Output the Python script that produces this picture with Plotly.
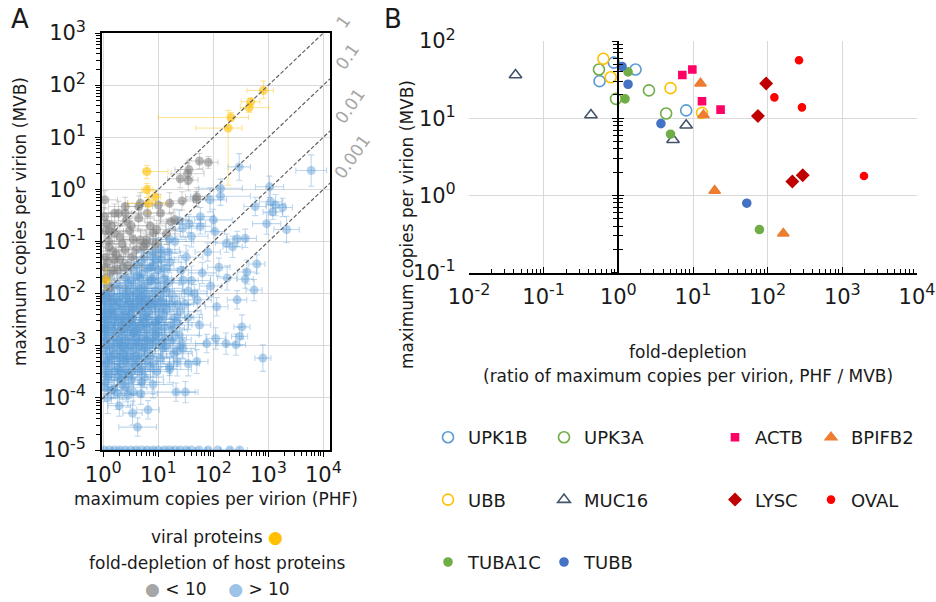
import plotly.graph_objects as go

W, H = 936, 602
FONT = "DejaVu Sans"
TXT = "#1a1a1a"

# ---------------- Panel A data (maximum copies per virion) ----------------
# viral proteins: PHF (x), MVB (y) with error-bar bounds
viral_phf = [813, 479, 447, 209, 186, 6.2, 6.2, 8.7, 6.6, 1.12]
viral_mvb = [79, 48, 37, 24, 15, 2.2, 0.98, 0.72, 0.54, 0.018]
viral_phf_lo = [407, 320, 309, 10, 48, 5.3, 5.0, 7.0, 2.8, 1.0]
viral_phf_hi = [1230, 700, 1020, 436, 330, 15, 8.0, 11, 14, 1.3]
viral_mvb_lo = [56, 40, 30, 20, 1.2, 1.6, 0.7, 0.55, 0.35, 0.012]
viral_mvb_hi = [120, 56, 45, 30, 33, 2.9, 1.3, 0.95, 1.17, 0.03]

# host proteins, fold-depletion < 10
gray_phf = [56, 81, 36, 34, 25, 35, 27, 49, 16, 2.5,
            4.7, 17, 20, 9.3, 4.4, 2.5, 1.3, 4.7, 2.0, 1.05,
            50, 1.6, 6.2, 2.5, 3.3, 1.26, 8.1, 4.4, 1.6, 1.5,
            2.0, 5.4, 7.1, 1.15, 1.07, 1.07, 1.3, 1.8, 1.12, 11,
            3.2, 8.9, 2.8, 10, 3.5, 14, 6.3, 1.6,
            1.1, 1.25, 1.4, 1.7, 2.2, 1.2, 1.5, 3.0, 2.6, 1.9,
            4.0, 1.05, 1.3, 2.3, 6.0]
gray_mvb = [3.5, 3.3, 2.4, 2.0, 1.6, 1.5, 0.60, 0.65, 0.54, 0.47,
            0.54, 0.24, 0.26, 0.17, 0.28, 0.35, 0.155, 0.107, 0.123, 0.30,
            0.72, 0.145, 0.107, 0.069, 0.051, 0.079, 0.145, 0.47, 0.35, 0.065,
            0.045, 0.079, 0.20, 0.22, 0.63, 0.032, 0.024, 0.028, 0.050, 0.35,
            0.20, 0.089, 0.035, 0.50, 0.11, 0.14, 0.35, 0.045,
            0.16, 0.10, 0.20, 0.056, 0.09, 0.04, 0.028, 0.16, 0.25, 0.35,
            0.07, 0.019, 0.013, 0.032, 0.09]
gray_phf_f = [1.6, 1.5, 1.8, 2.0, 1.7, 1.5, 1.6, 1.5, 1.8, 2.0,
              1.7, 1.6, 1.8, 2.2, 1.9, 2.0, 1.8, 2.0, 1.9, 1.8,
              1.6, 2.0, 1.8, 2.1, 1.9, 2.0, 1.7, 1.8, 2.0, 1.9,
              2.0, 1.8, 1.9, 1.8, 1.7, 1.9, 2.0, 1.8, 1.9, 1.7,
              2.0, 1.8, 1.9, 1.7, 2.0, 1.8, 1.9, 2.0,
              2.1, 1.9, 2.2, 2.0, 2.3, 1.9, 2.1, 2.0, 2.2, 1.9,
              2.1, 1.8, 2.0, 2.2, 1.9]
gray_mvb_f = [1.4, 1.3, 1.5, 1.6, 1.5, 1.6, 1.5, 1.4, 1.6, 1.5,
              1.6, 1.5, 1.6, 1.5, 1.6, 1.5, 1.6, 1.5, 1.6, 1.5,
              1.5, 1.6, 1.5, 1.6, 1.5, 1.6, 1.5, 1.6, 1.5, 1.6,
              1.5, 1.6, 1.5, 1.6, 1.5, 1.6, 1.5, 1.6, 1.5, 1.6,
              1.5, 1.6, 1.5, 1.6, 1.5, 1.6, 1.5, 1.6,
              1.6, 1.5, 1.7, 1.6, 1.5, 1.7, 1.6, 1.5, 1.6, 1.7,
              1.5, 1.6, 1.7, 1.6, 1.5]

# host proteins, fold-depletion > 10
blue_phf = [6000, 295, 135, 1050, 135, 87, 575, 1100, 1350, 1820,
            1200, 930, 2140, 380, 270, 100, 58, 36, 24, 58,
            107, 174, 224, 617, 407, 380, 550, 270, 115, 51,
            56, 330, 110, 300, 76, 170, 257, 794, 22, 11,
            35, 16, 9.3, 21, 31, 4.8, 1.5, 6.5, 3.4, 1.95,
            4.2, 1.12, 40, 79, 32, 126, 63, 20, 16, 28,
            45, 89, 178, 12.6, 22, 35, 18, 10, 8.9, 14,
            28, 50, 7.1, 5.6, 2.8, 2.0, 16, 28, 11, 7.9,
            5.6, 7.9, 11.2, 4.0, 7.1, 2.5, 5.0, 10, 1.6, 1.12,
            2.0, 3.2, 4.5, 6.3, 8.9, 12.6, 1.4, 2.5, 3.5, 5.6,
            1.05, 1.26, 1.8, 2.2, 2.8, 4.0, 5.0, 7.1, 8.9, 11.2,
            1.6, 3.2, 6.3, 2.0, 4.5, 1.12, 1.4, 1.9, 2.4, 3.0,
            3.8, 4.8, 6.0, 7.9, 1.26, 2.2, 4.0, 10, 1.66, 5.2,
            1.07, 1.3, 1.8, 2.5, 3.2, 4.5, 6.3, 7.9, 1.6, 2.8,
            5.0, 2.0, 1.12, 1.4, 2.0, 2.6, 3.5, 4.5, 1.26, 1.8,
            3.2, 7.1, 2.2, 1.4, 3.5, 2.5, 5.6, 8.9, 12.6, 4.0,
            2.2, 1.12, 1.5, 1.2, 7.9, 3.5, 14, 2.8, 5.0,
            1.02, 1.03, 1.05, 1.02, 1.04, 1.03, 1.06, 1.08,
            1.4, 1.7, 2.1, 1.5, 1.8, 2.0, 1.6, 2.4, 1.3, 2.2,
            2.7, 3.0, 3.4, 2.9, 3.6, 3.1, 2.7, 3.8, 3.3, 3.9,
            4.6, 5.3, 6.0, 4.8, 6.6, 5.5, 4.4, 6.2, 5.0, 6.8,
            8.3, 9.5, 11, 8.5, 10.5, 9.0, 11.5, 8.0, 12, 9.8,
            13, 15, 18, 14, 20, 17, 24, 13, 19, 25, 30, 35, 26, 15, 40,
            3.5, 5.0, 6.3, 9.0, 4.2, 7.5, 11, 2.8,
            1.1, 1.5, 2.0, 2.6, 3.4, 4.2, 5.5, 7.0, 9.0, 1.3,
            1.2, 1.6, 2.1, 2.7, 3.5, 4.5, 6.0, 8.0, 1.04, 2.3,
            1.15, 1.5, 2.0, 2.6, 3.4, 4.3, 5.6, 7.0, 1.3, 2.3,
            1.1, 1.45, 1.9, 2.5, 3.3, 4.2, 5.8, 1.2, 2.1, 2.9,
            1.05, 1.4, 1.8, 2.6, 3.5, 1.2, 5.0, 8.0,
            16, 22, 13, 27, 18, 12, 22, 16]
blue_mvb = [2.3, 2.7, 1.05, 1.12, 0.74, 0.63, 0.47, 0.58, 0.50, 0.45,
            0.37, 0.22, 0.17, 0.115, 0.112, 0.26, 0.30, 0.22, 0.25, 0.195,
            0.155, 0.093, 0.079, 0.037, 0.026, 0.019, 0.0117, 0.0076, 0.0056, 0.0076,
            0.0025, 0.0023, 0.00138, 0.00151, 0.0011, 0.0011, 0.00105, 0.00058, 0.00078, 0.00058,
            0.00045, 0.0004, 0.00032, 0.000129, 0.000129, 0.00012, 0.000145, 5.9e-5, 5.1e-5, 7.1e-5,
            2.75e-5, 0.0002, 0.126, 0.063, 0.050, 0.032, 0.025, 0.10, 0.040, 0.018,
            0.010, 0.014, 0.020, 0.0126, 0.0063, 0.0035, 0.002, 0.0032, 0.00126, 0.001,
            0.00089, 0.0005, 0.00063, 0.00025, 0.000112, 0.00032, 0.11, 0.18, 0.07, 0.063,
            0.050, 0.050, 0.045, 0.035, 0.032, 0.020, 0.024, 0.028, 0.0141, 0.010,
            0.014, 0.018, 0.0126, 0.016, 0.0112, 0.020, 0.010, 0.010, 0.0089, 0.010,
            0.0079, 0.0063, 0.0071, 0.005, 0.0063, 0.0056, 0.0045, 0.0063, 0.005, 0.0071,
            0.004, 0.004, 0.0035, 0.0089, 0.0079, 0.0032, 0.0025, 0.0028, 0.0022, 0.0028,
            0.002, 0.0025, 0.002, 0.0025, 0.0018, 0.0016, 0.0014, 0.0018, 0.0035, 0.0035,
            0.00126, 0.001, 0.0011, 0.00089, 0.00126, 0.001, 0.00089, 0.0011, 0.0007, 0.00063,
            0.0007, 0.00079, 0.0005, 0.0004, 0.00045, 0.00035, 0.00045, 0.00032, 0.00028, 0.00025,
            0.00022, 0.0004, 0.00018, 0.005, 0.0025, 0.0045, 0.00126, 0.0028, 0.004, 0.00056,
            0.001, 0.002, 0.0014, 0.0007, 0.020, 0.0126, 0.0112, 0.0018, 0.0089,
            0.0063, 0.0035, 0.0016, 0.0009, 0.00035, 0.0095, 0.0045, 0.0025,
            0.0079, 0.0056, 0.0032, 0.0020, 0.0013, 0.0006, 0.00032, 0.00028, 0.0042, 0.0025,
            0.0112, 0.0071, 0.0050, 0.0035, 0.0018, 0.0010, 0.00056, 0.00063, 0.0032, 0.0100,
            0.020, 0.0126, 0.0071, 0.0056, 0.0045, 0.0028, 0.0016, 0.0013, 0.00035, 0.0063,
            0.035, 0.016, 0.0089, 0.0063, 0.0032, 0.0016, 0.0011, 0.00045, 0.0056, 0.0025,
            0.030, 0.016, 0.0089, 0.005, 0.0035, 0.0025, 0.0016, 0.0014, 0.0007, 0.0045,
            0.0063, 0.0112, 0.028, 0.063, 0.0178,
            0.028, 0.040, 0.030, 0.045, 0.022, 0.018, 0.060, 0.016,
            0.0089, 0.0071, 0.0063, 0.0079, 0.0056, 0.0071, 0.0063, 0.0079, 0.0071, 0.0045,
            0.0032, 0.0028, 0.0020, 0.0025, 0.0018, 0.0022, 0.0028, 0.0018, 0.0022, 0.0035,
            0.0013, 0.0009, 0.0011, 0.0013, 0.0008, 0.0011, 0.0009, 0.0013, 0.0006, 0.0007,
            0.00045, 0.00056, 0.00035, 0.0005, 0.00032, 0.00045, 0.0005, 0.00025, 0.00022, 0.00028,
            0.00016, 0.00014, 0.00012, 0.00016, 0.00013, 0.0001, 0.0002, 0.00018,
            0.0063, 0.0028, 0.0022, 0.0011, 0.0013, 0.0009, 0.0005, 0.00035]
blue_phf_f = [1.9, 1.6, 2.5, 1.8, 3.5, 2.0, 1.6, 1.6, 1.5, 1.5,
              1.5, 1.8, 1.7, 1.6, 1.5, 2.2, 1.8, 2.0, 1.7, 1.6,
              1.5, 1.6, 1.5, 1.4, 1.5, 1.4, 1.4, 1.5, 1.6, 1.8,
              1.6, 1.4, 1.5, 1.4, 1.6, 1.5, 1.5, 1.4, 1.8, 1.7,
              1.6, 1.6, 1.8, 2.5, 1.5, 2.0, 1.8, 1.6, 1.5, 1.6,
              2.2, 1.4, 2.0, 1.7, 2.0, 1.6, 1.8, 2.2, 2.0, 1.9,
              1.7, 1.6, 1.5, 2.2, 2.0, 1.8, 1.9, 2.0, 2.1, 1.8,
              1.7, 1.6, 2.0, 2.2, 1.8, 1.9, 2.0, 1.8, 2.2, 2.0,
              2.4, 2.2, 2.1, 2.5, 2.3, 2.6, 2.4, 2.2, 2.2, 2.0,
              2.5, 2.4, 2.3, 2.2, 2.2, 2.1, 2.2, 2.4, 2.3, 2.2,
              2.0, 2.2, 2.4, 2.5, 2.3, 2.2, 2.4, 2.2, 2.1, 2.2,
              2.3, 2.4, 2.2, 2.5, 2.3, 2.1, 2.2, 2.4, 2.3, 2.5,
              2.2, 2.4, 2.2, 2.1, 2.2, 2.4, 2.3, 2.1, 2.4, 2.2,
              2.1, 2.2, 2.4, 2.3, 2.5, 2.2, 2.4, 2.1, 2.2, 2.4,
              2.2, 2.3, 2.1, 2.2, 2.4, 2.3, 2.2, 2.4, 2.1, 2.3,
              2.2, 2.1, 2.4, 2.2, 2.3, 2.4, 2.2, 2.1, 2.0, 2.3,
              2.4, 2.1, 2.2, 2.3, 2.2, 2.4, 2.1, 2.3, 2.2,
              1.6, 1.7, 1.8, 1.6, 1.7, 1.8, 1.6, 1.7,
              2.2, 2.4, 2.3, 2.5, 2.2, 2.4, 2.3, 2.5, 2.2, 2.4,
              2.3, 2.5, 2.2, 2.4, 2.3, 2.5, 2.2, 2.4, 2.3, 2.5,
              2.2, 2.4, 2.3, 2.5, 2.2, 2.4, 2.3, 2.5, 2.2, 2.4,
              2.3, 2.5, 2.2, 2.4, 2.3, 2.5, 2.2, 2.4, 2.3, 2.5,
              2.2, 2.4, 2.3, 2.5, 2.2, 2.4, 2.3, 2.5, 2.2, 2.4, 2.3, 2.2, 2.4, 2.3, 2.2,
              2.5, 2.3, 2.6, 2.2, 2.4, 2.5, 2.3, 2.6,
              1.8, 2.3, 2.5, 2.2, 2.6, 2.4, 2.3, 2.5, 2.2, 2.0,
              1.9, 2.4, 2.3, 2.6, 2.2, 2.5, 2.3, 2.4, 1.6, 2.5,
              1.9, 2.3, 2.5, 2.2, 2.6, 2.4, 2.3, 2.5, 2.0, 2.4,
              1.8, 2.2, 2.5, 2.3, 2.6, 2.4, 2.2, 1.9, 2.3, 2.5,
              1.6, 2.0, 2.3, 2.4, 2.2, 1.9, 2.5, 2.3,
              2.2, 2.4, 2.3, 2.5, 2.2, 2.4, 2.3, 2.5]
blue_mvb_f = [2.0, 1.8, 1.5, 1.6, 1.5, 1.7, 1.5, 1.8, 1.6, 1.5,
              1.4, 1.6, 1.8, 1.5, 1.4, 1.6, 1.5, 1.5, 1.6, 1.4,
              1.6, 1.5, 1.6, 1.5, 1.7, 1.5, 1.6, 1.5, 1.5, 1.6,
              1.6, 1.7, 1.6, 1.5, 1.5, 1.6, 1.6, 1.8, 1.6, 1.5,
              1.7, 1.5, 1.6, 1.5, 1.6, 1.6, 1.5, 1.5, 1.7, 1.6,
              1.5, 1.8, 1.6, 1.5, 1.7, 1.5, 1.6, 1.7, 1.6, 1.8,
              1.5, 1.6, 1.7, 1.7, 1.6, 1.7, 1.6, 1.8, 1.6, 1.7,
              1.6, 1.7, 1.8, 1.6, 1.7, 1.6, 1.6, 1.5, 1.7, 1.8,
              1.9, 1.8, 1.7, 1.9, 1.8, 2.0, 1.9, 1.8, 1.9, 2.0,
              1.8, 1.9, 1.8, 1.9, 1.7, 1.8, 1.9, 1.8, 1.9, 1.8,
              1.9, 1.8, 1.9, 1.8, 1.9, 1.8, 1.9, 1.8, 1.9, 1.7,
              1.9, 1.8, 1.9, 1.8, 1.9, 1.8, 1.9, 1.8, 1.9, 1.8,
              1.9, 1.8, 1.9, 1.8, 1.9, 1.8, 1.9, 1.8, 1.9, 1.8,
              1.9, 1.8, 1.9, 1.8, 1.9, 1.8, 1.9, 1.8, 1.9, 1.8,
              1.9, 1.8, 1.9, 1.8, 1.9, 1.8, 1.9, 1.8, 1.9, 1.8,
              1.9, 1.8, 1.9, 1.8, 1.9, 1.8, 1.9, 1.8, 1.9, 1.8,
              1.9, 1.8, 1.9, 1.8, 1.9, 1.8, 1.9, 1.8, 1.9,
              1.8, 1.9, 1.8, 1.9, 1.8, 1.9, 1.8, 1.9,
              1.9, 1.8, 1.9, 1.8, 1.9, 1.8, 1.9, 1.8, 1.9, 1.8,
              1.9, 1.8, 1.9, 1.8, 1.9, 1.8, 1.9, 1.8, 1.9, 1.8,
              1.9, 1.8, 1.9, 1.8, 1.9, 1.8, 1.9, 1.8, 1.9, 1.8,
              1.9, 1.8, 1.9, 1.8, 1.9, 1.8, 1.9, 1.8, 1.9, 1.8,
              1.9, 1.8, 1.9, 1.8, 1.9, 1.8, 1.9, 1.8, 1.9, 1.8, 1.9, 1.8, 1.9, 1.8, 1.9,
              1.8, 1.9, 2.0, 1.8, 1.9, 2.0, 1.8, 1.9,
              2.0, 1.9, 1.8, 2.0, 1.9, 1.8, 2.0, 1.9, 1.8, 2.0,
              1.9, 1.8, 2.0, 1.9, 1.8, 2.0, 1.9, 1.8, 2.0, 1.9,
              1.8, 2.0, 1.9, 1.8, 2.0, 1.9, 1.8, 2.0, 1.9, 1.8,
              2.0, 1.9, 1.8, 2.0, 1.9, 1.8, 2.0, 1.9, 1.8, 2.0,
              1.9, 1.8, 2.0, 1.9, 1.8, 2.0, 1.9, 1.8,
              1.9, 1.8, 2.0, 1.9, 1.8, 2.0, 1.9, 1.8]

# host proteins not detected in MVB (plotted at the axis floor)
blue_undet_phf = [1.05, 1.3, 1.6, 2.0, 2.5, 3.2, 4.0, 5.0, 6.3, 8.0, 10,
                  13, 16, 20, 25, 32, 40, 55, 80, 120, 200, 300]
blue_undet_phf_f = [1.3, 1.5, 1.6, 1.8, 1.7, 1.9, 2.0, 1.8, 1.9, 2.0, 1.8,
                    1.9, 2.0, 1.8, 1.9, 1.7, 1.8, 1.6, 1.7, 1.6, 1.5, 1.4]
floor_mvb = 1e-5

# constant-ratio guide lines (MVB = ratio * PHF) and their labels
guide_ratio = [0.1, 0.01, 0.001, 0.0001]
guide_label = ["1", "0.1", "0.01", "0.001"]

# ---------------- Panel B data ----------------
proteins = ["UPK1B", "UPK3A", "UBB", "MUC16", "TUBA1C", "TUBB",
            "ACTB", "BPIFB2", "LYSC", "OVAL"]
fold_depletion = {
    "UPK1B": [0.87, 0.56, 1.70, 8.1],
    "UPK3A": [0.55, 0.93, 2.57, 4.37],
    "UBB": [0.63, 0.79, 5.0, 13.2],
    "MUC16": [0.042, 0.43, 8.1, 5.4],
    "TUBA1C": [1.35, 1.23, 5.0, 77.6],
    "TUBB": [1.12, 1.35, 3.72, 52.5],
    "ACTB": [7.2, 9.8, 13.2, 23.4],
    "BPIFB2": [12.6, 13.8, 19.5, 162],
    "LYSC": [95.5, 74.1, 214, 295],
    "OVAL": [263, 123, 288, 1950],
}
mvb_copies = {
    "UPK1B": [52.5, 30.2, 42.7, 12.6],
    "UPK3A": [42.7, 17.8, 22.9, 11.5],
    "UBB": [58.9, 33.9, 24.5, 11.7],
    "MUC16": [36.3, 11.0, 8.1, 5.25],
    "TUBA1C": [39.8, 17.8, 6.2, 0.36],
    "TUBB": [46.8, 27.5, 8.5, 0.79],
    "ACTB": [36.3, 42.7, 16.6, 12.9],
    "BPIFB2": [28.2, 11.0, 1.15, 0.32],
    "LYSC": [28.2, 10.7, 1.51, 1.82],
    "OVAL": [56.2, 18.6, 13.8, 1.78],
}

styles = {
    "UPK1B": dict(symbol="circle-open", color="#5B9BD5", size=11),
    "UPK3A": dict(symbol="circle-open", color="#70AD47", size=11),
    "UBB": dict(symbol="circle-open", color="#FFC000", size=11),
    "MUC16": dict(symbol="triangle-up-open", color="#44546A", size=11),
    "TUBA1C": dict(symbol="circle", color="#70AD47", size=8),
    "TUBB": dict(symbol="circle", color="#4472C4", size=8),
    "ACTB": dict(symbol="square", color="#FF0066", size=7),
    "BPIFB2": dict(symbol="triangle-up", color="#ED7D31", size=10),
    "LYSC": dict(symbol="diamond", color="#C00000", size=9),
    "OVAL": dict(symbol="circle", color="#FF0000", size=7),
}
legend_of = {"UPK1B": "legend", "UBB": "legend", "TUBA1C": "legend",
             "UPK3A": "legend2", "MUC16": "legend2", "TUBB": "legend2",
             "ACTB": "legend3", "LYSC": "legend3",
             "BPIFB2": "legend4", "OVAL": "legend4"}


def px(x):
    return x / W


def py(y):
    return 1 - y / H


def err_f(vals, f):
    return [v * k - v for v, k in zip(vals, f)], [v - v / k for v, k in zip(vals, f)]


fig = go.Figure()

BLUE = "rgba(91,155,213,0.45)"
BLUE_E = "rgba(91,155,213,0.40)"
GRAY = "rgba(128,128,128,0.55)"
ORNG = "rgba(255,192,0,0.6)"

# blue points
ex_p, ex_m = err_f(blue_phf, blue_phf_f)
ey_p, ey_m = err_f(blue_mvb, blue_mvb_f)
fig.add_trace(go.Scatter(
    x=blue_phf, y=blue_mvb, mode="markers", showlegend=False, hoverinfo="skip",
    marker=dict(size=9, color=BLUE),
    error_x=dict(type="data", symmetric=False, array=ex_p, arrayminus=ex_m,
                 color=BLUE_E, thickness=1.1, width=3),
    error_y=dict(type="data", symmetric=False, array=ey_p, arrayminus=ey_m,
                 color=BLUE_E, thickness=1.1, width=3),
    xaxis="x", yaxis="y"))
ux_p, ux_m = err_f(blue_undet_phf, blue_undet_phf_f)
fig.add_trace(go.Scatter(
    x=blue_undet_phf, y=[floor_mvb] * len(blue_undet_phf), mode="markers",
    showlegend=False, hoverinfo="skip",
    marker=dict(size=9, color=BLUE),
    error_x=dict(type="data", symmetric=False, array=ux_p, arrayminus=ux_m,
                 color=BLUE_E, thickness=1.1, width=3),
    xaxis="x", yaxis="y"))

# gray points
gx_p, gx_m = err_f(gray_phf, gray_phf_f)
gy_p, gy_m = err_f(gray_mvb, gray_mvb_f)
fig.add_trace(go.Scatter(
    x=gray_phf, y=gray_mvb, mode="markers", showlegend=False, hoverinfo="skip",
    marker=dict(size=9, color=GRAY),
    error_x=dict(type="data", symmetric=False, array=gx_p, arrayminus=gx_m,
                 color="rgba(128,128,128,0.35)", thickness=1, width=3),
    error_y=dict(type="data", symmetric=False, array=gy_p, arrayminus=gy_m,
                 color="rgba(128,128,128,0.35)", thickness=1, width=3),
    xaxis="x", yaxis="y"))

# viral points
fig.add_trace(go.Scatter(
    x=viral_phf, y=viral_mvb, mode="markers", showlegend=False, hoverinfo="skip",
    marker=dict(size=9, color=ORNG),
    error_x=dict(type="data", symmetric=False,
                 array=[h - v for h, v in zip(viral_phf_hi, viral_phf)],
                 arrayminus=[v - l for l, v in zip(viral_phf_lo, viral_phf)],
                 color="rgba(255,192,0,0.45)", thickness=1, width=3),
    error_y=dict(type="data", symmetric=False,
                 array=[h - v for h, v in zip(viral_mvb_hi, viral_mvb)],
                 arrayminus=[v - l for l, v in zip(viral_mvb_lo, viral_mvb)],
                 color="rgba(255,192,0,0.45)", thickness=1, width=3),
    xaxis="x", yaxis="y"))

# guide lines across the full x range of panel A
XA_RANGE = [-0.024, 4.12]
x_ends = [10 ** XA_RANGE[0], 10 ** XA_RANGE[1]]
for r in guide_ratio:
    fig.add_trace(go.Scatter(
        x=x_ends, y=[r * v for v in x_ends], mode="lines", showlegend=False,
        hoverinfo="skip", line=dict(color="#606060", width=1.2, dash="4px,2px"),
        xaxis="x", yaxis="y"))

# ---------------- Panel B traces ----------------
for p in proteins:
    st = styles[p]
    fig.add_trace(go.Scatter(
        x=fold_depletion[p], y=mvb_copies[p], mode="markers", name=p,
        legend=legend_of[p], legendgroup=p, hoverinfo="skip",
        marker=dict(symbol=st["symbol"], color=st["color"], size=st["size"],
                    line=dict(color=st["color"], width=1.6)),
        xaxis="x2", yaxis="y2"))

# carrier traces for the axis drawn through fold-depletion = 1
for ax in ("y3", "y4"):
    fig.add_trace(go.Scatter(x=[None], y=[None], showlegend=False, hoverinfo="skip",
                             xaxis="x2", yaxis=ax))

SUP = 16


def log_ticks(lo, hi):
    vals = [10 ** k for k in range(lo, hi + 1)]
    text = ["10<sup><span style='font-size:%dpx'>%s</span></sup>"
            % (SUP, str(k) if k >= 0 else "-" + str(-k)) for k in range(lo, hi + 1)]
    minor = [m * 10 ** k for k in range(lo - 1, hi + 1) for m in range(2, 10)]
    return vals, text, minor


xa_v, xa_t, xa_m = log_ticks(0, 4)
ya_v, ya_t, ya_m = log_ticks(-5, 3)
xb_v, xb_t, xb_m = log_ticks(-2, 4)
yb_v, yb_t, yb_m = log_ticks(-1, 2)

TICKF = dict(family=FONT, size=21, color=TXT)
GRID = "#d9d9d9"

layout = dict(
    width=W, height=H, margin=dict(l=0, r=0, t=0, b=0, autoexpand=False),
    paper_bgcolor="white", plot_bgcolor="white",
    font=dict(family=FONT, color=TXT),
    xaxis=dict(domain=[px(102), px(330)], type="log", range=XA_RANGE, anchor="y",
               tickmode="array", tickvals=xa_v, ticktext=xa_t, tickfont=TICKF,
               showline=True, mirror=True, linecolor="black", linewidth=1.5,
               ticks="outside", ticklen=5, tickcolor="black",
               minor=dict(tickmode="array", tickvals=xa_m, ticks="outside", ticklen=4,
                          tickcolor="black", showgrid=False),
               showgrid=True, gridcolor=GRID, zeroline=False),
    yaxis=dict(domain=[py(450), py(33)], type="log", range=[-5, 3], anchor="x",
               tickmode="array", tickvals=ya_v, ticktext=ya_t, tickfont=TICKF,
               ticklabelstandoff=5,
               showline=True, mirror=True, linecolor="black", linewidth=1.5,
               ticks="outside", ticklen=5, tickcolor="black",
               minor=dict(tickmode="array", tickvals=ya_m, ticks="outside", ticklen=4,
                          tickcolor="black", showgrid=False),
               showgrid=True, gridcolor=GRID, zeroline=False),
    xaxis2=dict(domain=[px(469), px(917)], type="log", range=[-2, 4], anchor="y2",
                tickmode="array", tickvals=xb_v, ticktext=xb_t, tickfont=TICKF,
                ticklabelstandoff=4,
                showline=True, linecolor="black", linewidth=2,
                ticks="inside", ticklen=6, tickcolor="black",
                minor=dict(tickmode="array", tickvals=xb_m, ticks="inside", ticklen=4,
                           tickcolor="black", showgrid=False),
                showgrid=True, gridcolor=GRID, zeroline=False),
    yaxis2=dict(domain=[py(272.5), py(41)], type="log", range=[-1, 2], anchor="x2",
                tickmode="array", tickvals=yb_v, ticktext=yb_t, tickfont=TICKF,
                showline=False, ticks="outside", ticklen=8, tickcolor="rgba(0,0,0,0)",
                showgrid=True, gridcolor=GRID, zeroline=False),
)
for name, side in (("yaxis3", "outside"), ("yaxis4", "inside")):
    layout[name] = dict(overlaying="y2", anchor="free", position=px(618), side="left",
                        type="log", range=[-1, 2], showticklabels=False,
                        tickmode="array", tickvals=yb_v,
                        showline=True, linecolor="black", linewidth=2,
                        ticks=side, ticklen=5, tickcolor="black",
                        minor=dict(tickmode="array", tickvals=yb_m, ticks=side, ticklen=4,
                                   tickcolor="black", showgrid=False),
                        showgrid=False, zeroline=False)

LEGF = dict(family=FONT, size=18, color=TXT)
leg_common = dict(orientation="v", xanchor="left", yanchor="top", font=LEGF,
                  bgcolor="rgba(0,0,0,0)", borderwidth=0, tracegroupgap=36,
                  itemclick=False, itemdoubleclick=False)
for name, cx in (("legend", 448), ("legend2", 564), ("legend3", 735), ("legend4", 831)):
    layout[name] = dict(x=px(cx - 20), y=py(419), **leg_common)

fig.update_layout(**layout)

ann = []


def add_text(x, y, text, size, angle=0, color=TXT, xanchor="center"):
    ann.append(dict(x=px(x), y=py(y), xref="paper", yref="paper", text=text,
                    showarrow=False, textangle=angle, xanchor=xanchor, yanchor="middle",
                    font=dict(family=FONT, size=size, color=color)))


add_text(20, 19, "A", 26)
add_text(393, 19, "B", 26)
add_text(216, 499, "maximum copies per virion (PHF)", 17)
add_text(20, 222, "maximum copies per virion (MVB)", 17, angle=-90)
add_text(407, 225, "maximum copies per virion (MVB)", 17, angle=-90)
add_text(688, 352, "fold-depletion", 17)
add_text(688, 376, "(ratio of maximum copies per virion, PHF / MVB)", 17)
add_text(217, 537, "viral proteins <span style='color:#FFC000'>\u25CF</span>", 17)
add_text(217, 563, "fold-depletion of host proteins", 17)
add_text(217, 589, "<span style='color:#A6A6A6'>\u25CF</span> &lt; 10"
         "&nbsp;&nbsp;&nbsp;&nbsp;<span style='color:#9DC3E6'>\u25CF</span> &gt; 10", 17)
for lab, (lx, ly) in zip(guide_label, [(343, 22), (347, 57), (350, 106), (352, 157)]):
    add_text(lx, ly, lab, 17, angle=-55, color="#A6A6A6")

fig.update_layout(annotations=ann)
fig.write_html("out.html")
